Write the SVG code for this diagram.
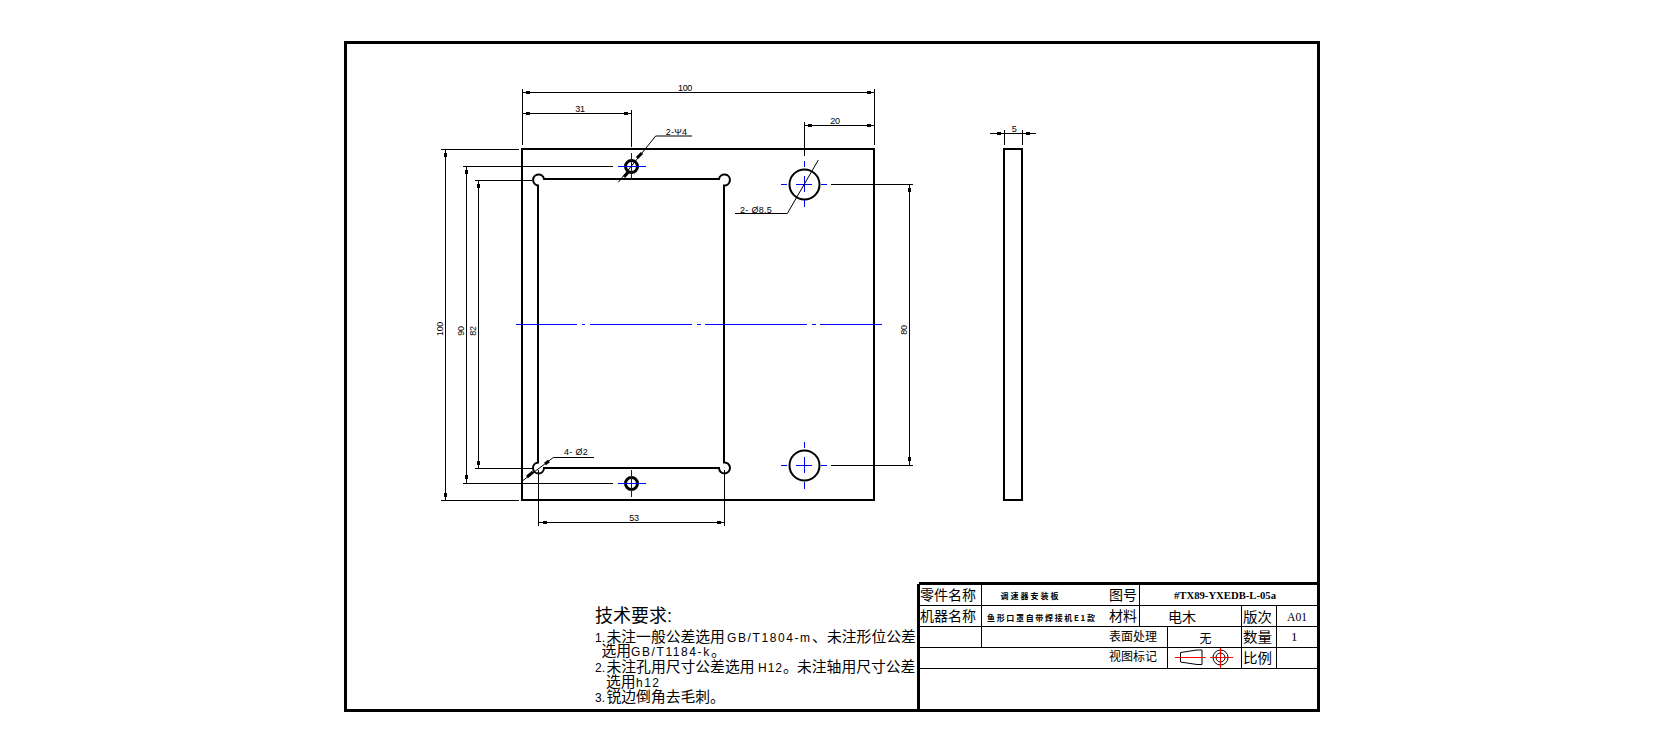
<svg xmlns="http://www.w3.org/2000/svg" width="1664" height="753" viewBox="0 0 1664 753">
<style>
.bg{fill:#fff}
.l{fill:none;stroke:#000;stroke-width:1;shape-rendering:crispEdges}
.o{fill:none;stroke:#000;stroke-width:2}
.h{fill:none;stroke:#000;stroke-width:3}
.oc{fill:none;stroke:#000;stroke-width:2;shape-rendering:crispEdges}
.f{fill:none;stroke:#000;stroke-width:3;shape-rendering:crispEdges}
.d{fill:none;stroke:#000;stroke-width:1}
.a{fill:none;stroke:#000;stroke-width:3}
.c{fill:none;stroke:#0000ff;stroke-width:1;shape-rendering:crispEdges}
.r{fill:none;stroke:#ff0000;stroke-width:1;shape-rendering:crispEdges}
.t{fill:#000;shape-rendering:crispEdges}
text{fill:#000}
.n{font-family:"Liberation Sans",Arial,sans-serif;font-size:9px;letter-spacing:-.3px;text-anchor:middle}
.m{font-family:"Liberation Sans",Arial,sans-serif;font-size:9px;letter-spacing:.3px}
.cn{font-family:"Liberation Sans","Noto Sans CJK SC",sans-serif;font-size:14.800px}
.la{font-family:"Liberation Sans",Arial,sans-serif;font-size:12px}
.b{font-family:"Noto Sans CJK SC",sans-serif;font-size:14px}
.s{font-family:"Noto Sans CJK SC",sans-serif;font-size:12px}
.x{font-family:"Noto Sans CJK SC",sans-serif;font-size:8px;font-weight:700}
.e{font-family:"Liberation Serif",serif;font-size:12px}
</style>
<rect class="bg" width="1664" height="753"/>
<g id="frame">
<rect class="f" x="345.500" y="42.500" width="973" height="668"/>
</g>
<g id="front-view">
<rect id="plate" class="oc" x="522" y="149" width="352" height="351"/>
<path id="window" class="o" d="M544 179H719A5.500 5.500 0 1 1 724 185.500V462.500A5.500 5.500 0 1 1 719 468H544A5.500 5.500 0 1 1 538 462.500V185.500A5.500 5.500 0 1 1 544 179Z"/>
<circle id="hole-top" class="h" cx="631.500" cy="166.500" r="6"/>
<circle id="hole-bottom" class="h" cx="631.500" cy="483.500" r="6"/>
<circle id="hole-large-top" class="o" cx="804.500" cy="184.500" r="15"/>
<circle id="hole-large-bottom" class="o" cx="804.500" cy="465.500" r="15"/>
</g>
<g id="centerlines">
<path class="c" d="M516 324.500H577M582 324.500H585M590 324.500H692M697 324.500H701M705 324.500H807M812 324.500H816M820 324.500H882"/>
<path class="c" d="M618 166.500H646M631.500 153V180"/>
<path class="c" d="M618 483.500H646M631.500 470V497"/>
<path class="c" d="M781 184.500H787M796 184.500H812M821 184.500H827M804.500 161V167M804.500 176V192M804.500 200V207"/>
<path class="c" d="M781 465.500H787M796 465.500H812M821 465.500H827M804.500 442V448M804.500 457V473M804.500 482V489"/>
</g>
<g id="dim-top-100">
<path class="l" d="M522.500 89V145M874.500 89V145M522.500 92.500H874.500"/>
<rect class="t" x="526" y="91" width="4" height="3"/><rect class="t" x="867" y="91" width="4" height="3"/>
<text class="n" x="685" y="91">100</text>
</g>
<g id="dim-31">
<path class="l" d="M631.500 110V147M522.500 113.500H631.500"/>
<rect class="t" x="526" y="112" width="4" height="3"/><rect class="t" x="624" y="112" width="4" height="3"/>
<text class="n" x="580" y="112">31</text>
</g>
<g id="dim-20">
<path class="l" d="M804.500 122V156M804.500 125.500H874.500"/>
<rect class="t" x="808" y="124" width="4" height="3"/><rect class="t" x="867" y="124" width="4" height="3"/>
<text class="n" x="835" y="124">20</text>
</g>
<g id="dim-left-100">
<path class="l" d="M441 149.500H519M441 500.500H519M445.500 149.500V500.500"/>
<rect class="t" x="444" y="153" width="3" height="4"/><rect class="t" x="444" y="493" width="3" height="4"/>
<text class="n" transform="rotate(-90 443 329)" x="443" y="329">100</text>
</g>
<g id="dim-90">
<path class="l" d="M463 166.500H613M463 483.500H613M466.500 166.500V483.500"/>
<rect class="t" x="465" y="170" width="3" height="4"/><rect class="t" x="465" y="475" width="3" height="4"/>
<text class="n" transform="rotate(-90 464 331)" x="464" y="331">90</text>
</g>
<g id="dim-82">
<path class="l" d="M475 180.500H532M475 468.500H532M478.500 180.500V468.500"/>
<rect class="t" x="477" y="184" width="3" height="4"/><rect class="t" x="477" y="461" width="3" height="4"/>
<text class="n" transform="rotate(-90 476 331)" x="476" y="331">82</text>
</g>
<g id="dim-80">
<path class="l" d="M831 184.500H913M831 465.500H913M909.500 184.500V465.500"/>
<rect class="t" x="908" y="188" width="3" height="4"/><rect class="t" x="908" y="457" width="3" height="4"/>
<text class="n" transform="rotate(-90 907 330)" x="907" y="330">80</text>
</g>
<g id="dim-53">
<path class="l" d="M538.500 470V526M724.500 470V526M538.500 522.500H724.500"/>
<rect class="t" x="543" y="521" width="4" height="3"/><rect class="t" x="717" y="521" width="4" height="3"/>
<text class="n" x="634" y="521">53</text>
</g>
<g id="leader-4">
<path class="d" d="M618.300 182.300L655.700 136H692"/>
<path class="a" d="M637 158L642 153M624 177L628 172.500"/>
<text class="m" x="665.700" y="134.500">2-Ψ4</text>
</g>
<g id="leader-8-5">
<path class="d" d="M818.300 160L787.300 213.500H735"/>
<text class="m" x="740" y="212.500">2- Ø8.5</text>
</g>
<g id="leader-2">
<path class="d" d="M522.700 480.700L553.300 457.500H594"/>
<path class="a" d="M527 477L533 472M545 464L549 461"/>
<text class="m" x="564" y="455">4- Ø2</text>
</g>
<g id="side-view">
<rect class="oc" x="1004" y="149" width="18" height="351"/>
<path class="l" d="M1004.500 130V145M1022.500 130V145M990 133.500H1036"/>
<rect class="t" x="997" y="132" width="4" height="3"/><rect class="t" x="1026" y="132" width="4" height="3"/>
<text class="n" x="1014" y="132">5</text>
</g>
<g id="notes">
<text class="cn" x="595" y="622" style="font-size:18px">技术要求:</text>
<text class="cn" y="641.500"><tspan class="la" x="595">1.</tspan><tspan x="606.500">未注一般公差选用</tspan><tspan class="la" x="727" letter-spacing="1.600">GB/T1804-m</tspan><tspan x="812">、</tspan><tspan x="827">未注形位公差</tspan></text>
<text class="cn" y="656"><tspan x="601.500">选用</tspan><tspan class="la" x="631" letter-spacing="1.600">GB/T1184-k</tspan><tspan x="711">。</tspan></text>
<text class="cn" y="671.500"><tspan class="la" x="595">2.</tspan><tspan x="606.500">未注孔用尺寸公差选用</tspan><tspan class="la" x="758" letter-spacing="1">H12</tspan><tspan x="783">。</tspan><tspan x="797">未注轴用尺寸公差</tspan></text>
<text class="cn" y="686.500"><tspan x="606">选用</tspan><tspan class="la" x="636" letter-spacing="1.500">h12</tspan></text>
<text class="cn" y="701.500"><tspan class="la" x="595">3.</tspan><tspan x="606.500">锐边倒角去毛刺</tspan><tspan x="710">。</tspan></text>
</g>
<g id="title-block">
<path class="f" d="M918.500 710.500V583.500"/>
<path class="f" d="M918.500 583.500H1318.500"/>
<path class="l" d="M918 605.500H1318M918 626.500H1318M918 647.500H1318M918 668.500H1318"/>
<path class="l" d="M981.500 583V647M1139.500 583V626M1167.500 626V668M1241.500 605V668M1276.500 605V668"/>
<text class="b" x="920" y="600" textLength="56" lengthAdjust="spacingAndGlyphs">零件名称</text>
<text class="b" x="920" y="620.500" textLength="56" lengthAdjust="spacingAndGlyphs">机器名称</text>
<text class="b" x="1109" y="600" textLength="28" lengthAdjust="spacingAndGlyphs">图号</text>
<text class="b" x="1109" y="621" textLength="28" lengthAdjust="spacingAndGlyphs">材料</text>
<text class="b" x="1168" y="621.500" textLength="28" lengthAdjust="spacingAndGlyphs">电木</text>
<text class="b" x="1243" y="621.500" textLength="29" lengthAdjust="spacingAndGlyphs">版次</text>
<text class="b" x="1243" y="642" textLength="29" lengthAdjust="spacingAndGlyphs">数量</text>
<text class="b" x="1243" y="663" textLength="29" lengthAdjust="spacingAndGlyphs">比例</text>
<text class="s" x="1109" y="641" textLength="48" lengthAdjust="spacingAndGlyphs">表面处理</text>
<text class="s" x="1199.500" y="643">无</text>
<text class="s" x="1109" y="661" textLength="48" lengthAdjust="spacingAndGlyphs">视图标记</text>
<text class="x" x="1000.500" y="599" textLength="58">调速器安装板</text>
<text class="x" x="987" y="621" textLength="108">鱼形口罩自带焊接机E1款</text>
<text class="e" x="1174" y="598.500" textLength="102" font-weight="700" lengthAdjust="spacingAndGlyphs" style="font-size:11px">#TX89-YXEDB-L-05a</text>
<text class="e" x="1287" y="621" textLength="20" lengthAdjust="spacingAndGlyphs" style="font-size:13px">A01</text>
<text class="e" x="1291" y="641" style="font-size:13px">1</text>
<g id="view-symbol">
<path class="d" d="M1180.500 652.500L1197 650H1202V664.500H1197L1180.500 662Z"/>
<circle class="d" cx="1220.500" cy="657.500" r="7.500"/>
<circle class="d" cx="1220.500" cy="657.500" r="4.500"/>
<path class="r" d="M1175 657.500H1206M1210 657.500H1233M1220.500 648V668"/>
</g>
</g>
</svg>
